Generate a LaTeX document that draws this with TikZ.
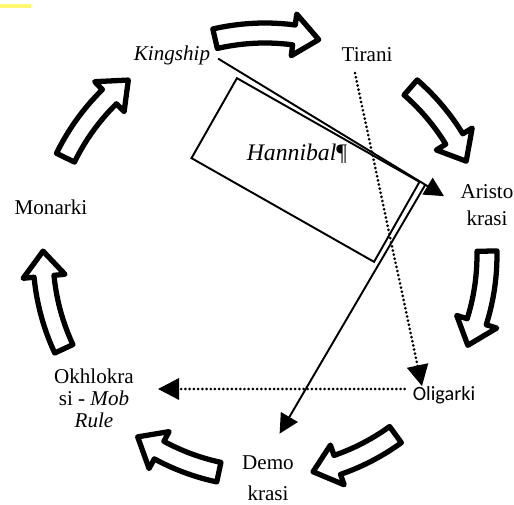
\documentclass[tikz,border=0pt]{standalone}
\usepackage{fontspec}
\setmainfont{Liberation Serif}
\newfontfamily\calibri{Carlito}
\usetikzlibrary{arrows.meta,calc}

\begin{document}
\begin{tikzpicture}[
  x=0.02cm, y=-0.02cm,
  every node/.style={font=\fontsize{12}{12.5}\selectfont, align=center, inner sep=1pt},
  stage/.style={font=\fontsize{12}{12.5}\selectfont},
  cyclearrow/.style={draw=black, fill=white, line width=3pt, line join=round},
  link/.style={-{Triangle[length=11pt,width=11pt]}, line width=1.1pt},
  dotlink/.style={-{Triangle[length=12pt,width=12pt]}, line width=1.7pt,
    dash pattern=on 0pt off 2.4pt, line cap=round},
]

\useasboundingbox (0,0) rectangle (514,504);

\fill[yellow!55] (0,4) rectangle (31,8);

% the cycle of block arrows
\foreach \a/\b in {257/284, 311/335, 359/384, 414/437.5, 462/485, 515/541, 566/592}{
  \pgfmathsetmacro\m{\b-6.5}
  \draw[cyclearrow] plot[domain=\a:\m, samples=12] ({265+232*cos(\x)},{255+232*sin(\x)})
    -- ({265+243*cos(\m)},{255+243*sin(\m)})
    -- ({265+222*cos(\b)},{255+222*sin(\b)})
    -- ({265+201*cos(\m)},{255+201*sin(\m)})
    -- plot[domain=\m:\a, samples=12] ({265+212*cos(\x)},{255+212*sin(\x)})
    -- cycle;
}

\node[stage, font=\fontsize{12}{12.5}\selectfont\itshape] (king) at (172,55) {Kingship};
\node[stage] (tirani) at (367,55) {Tirani};
\node[stage] (aristo) at (487,205) {Aristo\\[2.8pt]krasi};
\node[font=\fontsize{11.5}{12}\selectfont\calibri] (oligarki) at (444,395) {Oligarki};
\node[stage] (demo) at (268,478) {Demo\\[5pt]krasi};
\node[stage] (okhlo) at (94,398) {Okhlokra\\si - \textit{Mob}\\\textit{Rule}};
\node[stage] (monarki) at (51,207) {Monarki};

% rotated text box
\node[draw, line width=1.1pt, rotate=-29.6, minimum width=4.2cm, minimum height=1.84cm] (box) at (305.5,170) {};
\node[font=\fontsize{13.5}{14}\selectfont\itshape] (hannibal) at (297,154) {Hannibal\textup{¶}};

\draw[link, shorten <=0.14cm, shorten >=0.34cm] (king.east) -- (aristo.west);
\coordinate (bend) at ($(king.east)!0.865!(aristo.west)$);
\draw[link, shorten >=0.46cm] (bend) -- (demo.north);

\draw[dotlink] ($(tirani.south)+(-12,9)$) -- ($(oligarki.north)+(-22,2)$);
\draw[dotlink] ($(oligarki.west)+(-6,-6)$) -- ($(okhlo.east)+(22,-9)$);

\end{tikzpicture}
\end{document}
